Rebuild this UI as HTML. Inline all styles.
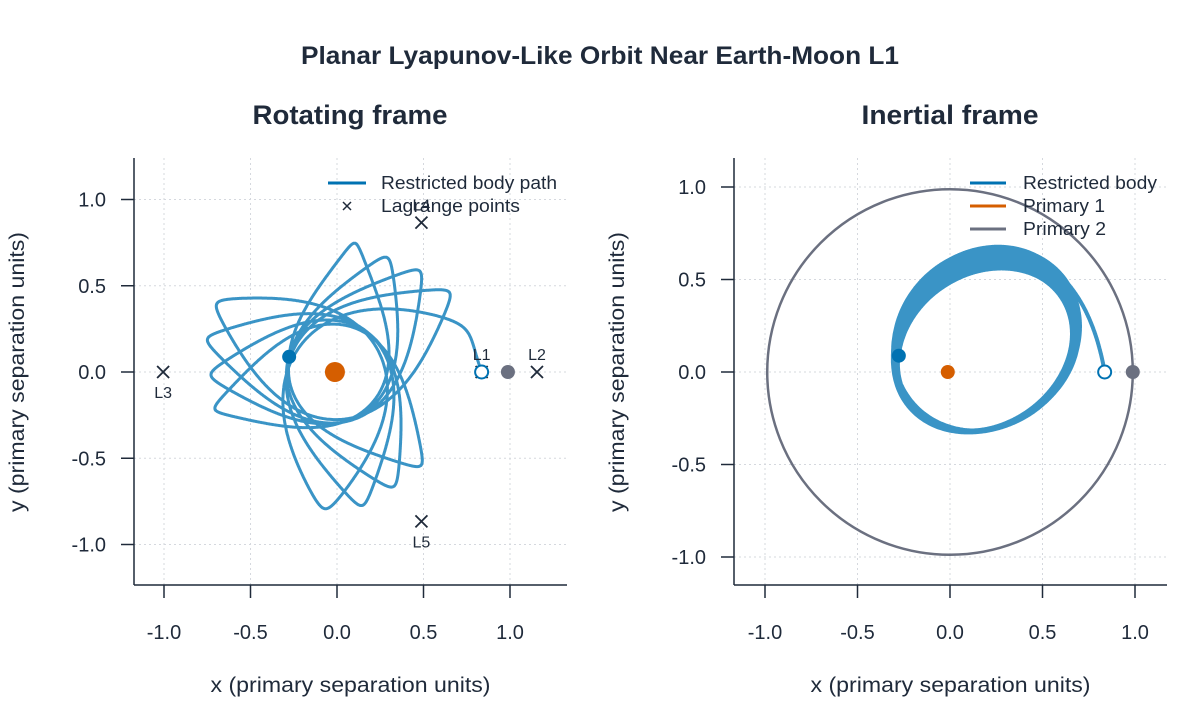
<!DOCTYPE html>
<html><head><meta charset="utf-8">
<style>
body{margin:0;background:#fff;}
svg text{font-family:"Liberation Sans",sans-serif;fill:#1f2a3a;}
</style></head>
<body>
<svg id="s" width="1200" height="720" viewBox="0 0 1200 720" xmlns="http://www.w3.org/2000/svg">
<rect width="1200" height="720" fill="#fff"/>
<text x="600" y="64" text-anchor="middle" font-size="25" font-weight="bold" textLength="598" lengthAdjust="spacingAndGlyphs">Planar Lyapunov-Like Orbit Near Earth-Moon L1</text>
<text x="350" y="124" text-anchor="middle" font-size="27" font-weight="bold" textLength="195" lengthAdjust="spacingAndGlyphs">Rotating frame</text>
<text x="950" y="124" text-anchor="middle" font-size="27" font-weight="bold" textLength="177" lengthAdjust="spacingAndGlyphs">Inertial frame</text>
<g id="L"></g><g id="R"></g>
</svg>
<script>
const NS="http://www.w3.org/2000/svg";
function el(p,tag,a,txt){const e=document.createElementNS(NS,tag);for(const k in a)e.setAttribute(k,a[k]);if(txt!==undefined)e.textContent=txt;p.appendChild(e);return e;}
const T=8*Math.PI,n=3.166;
const M0=1.82;
function kep(t){const s=t/T;const a=0.52*(1+0.035*Math.sin(6*s)),e=0.47+0.035*Math.cos(5*s),b=0.44*(1+0.07*Math.cos(4*s));
 let M=M0+n*t;let E=M;for(let i=0;i<30;i++)E=E-(E-e*Math.sin(E)-M)/(1-e*Math.cos(E));
 const xp=a*(Math.cos(E)-e),yp=b*Math.sin(E);const w=(224-14*s)*Math.PI/180;
 return [xp*Math.cos(w)-yp*Math.sin(w),xp*Math.sin(w)+yp*Math.cos(w)];}
const p0=kep(0),d=[0.836-p0[0],0-p0[1]];
const inert=[],rot=[];
for(let i=0;i<=8000;i++){const t=T*i/8000;const k=kep(t);const f=Math.exp(-t/0.3);
 const x=k[0]+d[0]*f,y=k[1]+d[1]*f;inert.push([x,y]);
 rot.push([x*Math.cos(t)+y*Math.sin(t),-x*Math.sin(t)+y*Math.cos(t)]);}
function panel(g,cfg){
 const X=v=>cfg.x0+v*cfg.sx,Y=v=>cfg.y0-v*cfg.sy;
 const ticks=[-1,-0.5,0,0.5,1];
 ticks.forEach(v=>{el(g,'line',{x1:X(v),x2:X(v),y1:158,y2:585,stroke:'#d5d8de','stroke-dasharray':'2,3','stroke-width':1});
  el(g,'line',{x1:cfg.l,x2:cfg.r,y1:Y(v),y2:Y(v),stroke:'#d5d8de','stroke-dasharray':'2,3','stroke-width':1});
  el(g,'line',{x1:X(v),x2:X(v),y1:585,y2:598,stroke:'#1f2a3a','stroke-width':1.5});
  el(g,'line',{x1:cfg.l-13,x2:cfg.l,y1:Y(v),y2:Y(v),stroke:'#1f2a3a','stroke-width':1.5});
  const s=v.toFixed(1);
  el(g,'text',{x:X(v),y:639,'text-anchor':'middle','font-size':20},s);
  el(g,'text',{x:cfg.l-28,y:Y(v)+7,'text-anchor':'end','font-size':20},s);});
 el(g,'line',{x1:cfg.l,x2:cfg.l,y1:158,y2:585,stroke:'#1f2a3a','stroke-width':1.5});
 el(g,'line',{x1:cfg.l,x2:cfg.r,y1:585,y2:585,stroke:'#1f2a3a','stroke-width':1.5});
 el(g,'text',{x:(cfg.l+cfg.r)/2,y:692,'text-anchor':'middle','font-size':21,textLength:280,lengthAdjust:'spacingAndGlyphs'},'x (primary separation units)');
 el(g,'text',{x:0,y:0,'text-anchor':'middle','font-size':21,textLength:280,lengthAdjust:'spacingAndGlyphs',transform:`translate(${cfg.l-110},${372}) rotate(-90)`},'y (primary separation units)');
 return [X,Y];}
function path(g,pts,X,Y,attrs){let s='';pts.forEach((p,i)=>{s+=(i?'L':'M')+X(p[0]).toFixed(1)+','+Y(p[1]).toFixed(1);});attrs.d=s;attrs.fill='none';el(g,'path',attrs);}
const gL=document.getElementById('L'),gR=document.getElementById('R');
let [X,Y]=panel(gL,{x0:337,y0:372,sx:173,sy:172.5,l:134,r:567});
path(gL,rot,X,Y,{stroke:'#3a94c6','stroke-width':3,'stroke-linejoin':'round'});
const Lp=[[0.836,0,'L1',-12],[1.156,0,'L2',-12],[-1.005,0,'L3',26],[0.488,0.866,'L4',-12],[0.488,-0.866,'L5',26]];
Lp.forEach(p=>{const cx=X(p[0]),cy=Y(p[1]);el(gL,'path',{d:`M${cx-6},${cy-6}L${cx+6},${cy+6}M${cx-6},${cy+6}L${cx+6},${cy-6}`,stroke:'#1f2a3a','stroke-width':1.8});
 el(gL,'text',{x:cx,y:cy+p[3],'text-anchor':'middle','font-size':16},p[2]);});
el(gL,'circle',{cx:X(0.988),cy:Y(0),r:7,fill:'#6b7080'});
el(gL,'circle',{cx:X(-0.012),cy:Y(0),r:10,fill:'#d55e00'});
el(gL,'circle',{cx:X(0.836),cy:Y(0),r:6.5,fill:'#fff',stroke:'#0072b2','stroke-width':2});
const ep=rot[rot.length-1];el(gL,'circle',{cx:X(ep[0]),cy:Y(ep[1]),r:7,fill:'#0072b2'});
el(gL,'line',{x1:328,x2:366,y1:183,y2:183,stroke:'#0072b2','stroke-width':3});
el(gL,'text',{x:381,y:189,'font-size':18,textLength:176,lengthAdjust:'spacingAndGlyphs'},'Restricted body path');
el(gL,'path',{d:'M343,202L351,210M343,210L351,202',stroke:'#1f2a3a','stroke-width':1.5});
el(gL,'text',{x:381,y:212,'font-size':18,textLength:139,lengthAdjust:'spacingAndGlyphs'},'Lagrange points');
[X,Y]=panel(gR,{x0:950,y0:372,sx:185,sy:185,l:734,r:1167});
el(gR,'circle',{cx:X(0),cy:Y(0),r:0.988*185,fill:'none',stroke:'#6b7080','stroke-width':2.5});
path(gR,inert,X,Y,{stroke:'#3a94c6','stroke-width':4,'stroke-linejoin':'round'});
el(gR,'circle',{cx:X(-0.012),cy:Y(0),r:7,fill:'#d55e00'});
el(gR,'circle',{cx:X(0.988),cy:Y(0),r:7,fill:'#6b7080'});
el(gR,'circle',{cx:X(0.836),cy:Y(0),r:6.5,fill:'#fff',stroke:'#0072b2','stroke-width':2});
const ei=inert[inert.length-1];el(gR,'circle',{cx:X(ei[0]),cy:Y(ei[1]),r:7,fill:'#0072b2'});
[['Restricted body','#0072b2',183,134],['Primary 1','#d55e00',206,82],['Primary 2','#6b7080',229,83]].forEach(l=>{
 el(gR,'line',{x1:970,x2:1006,y1:l[2],y2:l[2],stroke:l[1],'stroke-width':3});
 el(gR,'text',{x:1023,y:l[2]+6,'font-size':18,textLength:l[3],lengthAdjust:'spacingAndGlyphs'},l[0]);});
</script>
</body></html>
